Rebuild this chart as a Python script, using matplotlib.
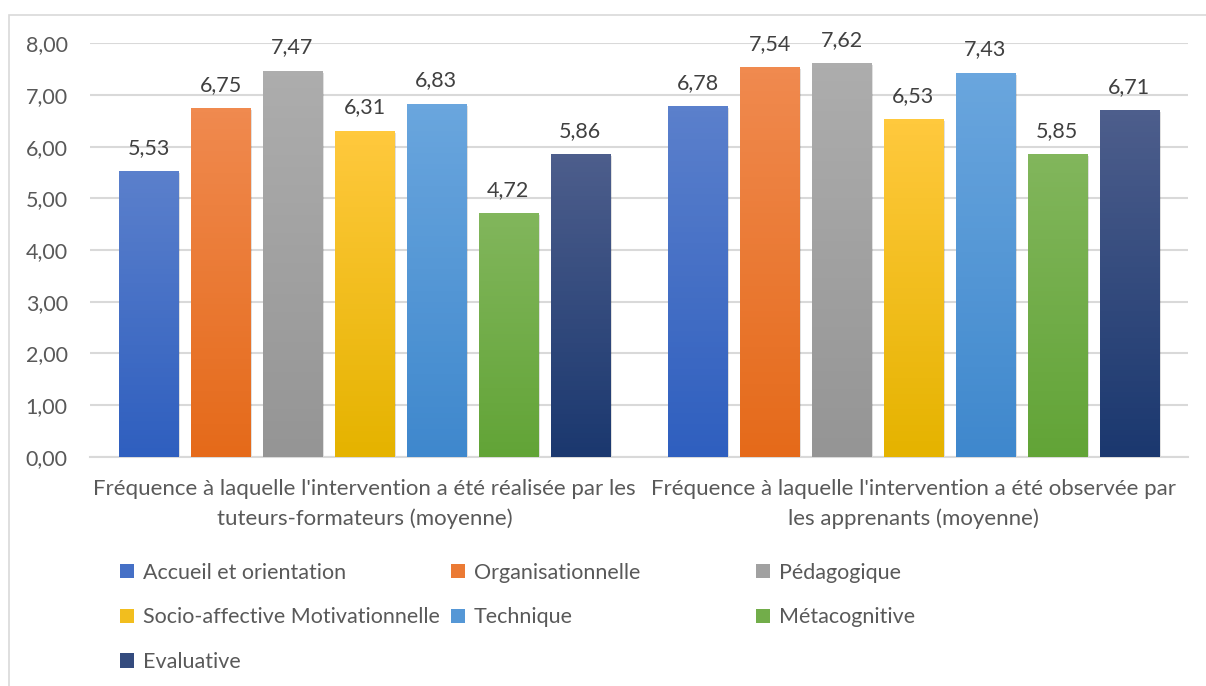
import numpy as np
import matplotlib
matplotlib.use("Agg")
import matplotlib.pyplot as plt
from matplotlib.patches import Rectangle, Patch
from matplotlib.ticker import FuncFormatter
import matplotlib.colors as mcolors
import matplotlib.patheffects as pe

######### données ##########
categories = [
    "Fréquence à laquelle l'intervention a été réalisée par les\ntuteurs-formateurs (moyenne)",
    "Fréquence à laquelle l'intervention a été observée par\nles apprenants (moyenne)",
]
series = ["Accueil et orientation", "Organisationnelle", "Pédagogique",
          "Socio-affective Motivationnelle", "Technique", "Métacognitive", "Evaluative"]
realisee = [5.53, 6.75, 7.47, 6.31, 6.83, 4.72, 5.86]
observee = [6.78, 7.54, 7.62, 6.53, 7.43, 5.85, 6.71]
# couleurs haut / bas du dégradé
top_colors = ["#5b80cc", "#f08a4f", "#adadad", "#ffc93d", "#6aa6de", "#82b65c", "#4d5e8c"]
bot_colors = ["#2f5fbf", "#e56a1a", "#959595", "#e5b300", "#3f88cd", "#62a437", "#1b386f"]
######### données ##########

plt.rcParams['font.family'] = ['Lato', 'DejaVu Sans']
txt = "#595959"
grid = "#d9d9d9"
fs = 16

fig = plt.figure(figsize=(12.06, 6.86), dpi=100)
ax = fig.add_axes([0.0746, 0.334, 0.9104, 0.603])

values = np.array([realisee, observee])
x = np.arange(len(categories))
pitch = 0.131
width = 0.1075
n = len(series)

shadow = [pe.SimplePatchShadow(offset=(1.5, -1.5), shadow_rgbFace='#000000', alpha=0.12), pe.Normal()]

for i, name in enumerate(series):
    pos = x + (i - (n - 1) / 2) * pitch
    bars = ax.bar(pos, values[:, i], width, color=bot_colors[i], zorder=2)
    c0 = np.array(mcolors.to_rgb(top_colors[i]))
    c1 = np.array(mcolors.to_rgb(bot_colors[i]))
    t = np.linspace(0, 1, 64)[:, None]
    grad = (c0 * (1 - t) + c1 * t)[:, None, :]
    for b, v in zip(bars, values[:, i]):
        b.set_path_effects(shadow)
        im = ax.imshow(grad, extent=(b.get_x(), b.get_x() + b.get_width(), 0, v),
                       origin='upper', aspect='auto', zorder=3)
        im.set_clip_path(b)
        ax.annotate(f"{v:.2f}".replace(".", ","), (b.get_x() + b.get_width() / 2, v),
                    xytext=(0, 9.5), textcoords='offset points', ha='center', va='bottom',
                    fontsize=15.5, color="#404040", zorder=4)

ax.set_xlim(-0.5, 1.5)
ax.set_ylim(0, 8)
ax.set_yticks(np.arange(0, 9, 1))
ax.yaxis.set_major_formatter(FuncFormatter(lambda v, p: f"{v:.2f}".replace(".", ",")))
ax.set_xticks(x)
ax.set_xticklabels(categories, linespacing=1.55)
ax.tick_params(axis='both', length=0, labelsize=fs, labelcolor=txt)
ax.tick_params(axis='y', labelsize=15.5, pad=16)
ax.tick_params(axis='x', pad=16)
ax.grid(axis='y', color=grid, linewidth=1.5, zorder=0)
ax.set_axisbelow(True)
for s in ["top", "right", "left"]:
    ax.spines[s].set_visible(False)
ax.spines["bottom"].set_color(grid)
ax.spines["bottom"].set_linewidth(1.5)

# légende en trois colonnes
handles = [Patch(facecolor=mcolors.to_hex((np.array(mcolors.to_rgb(top_colors[i])) +
                                           np.array(mcolors.to_rgb(bot_colors[i]))) / 2),
                 label=series[i]) for i in range(n)]
cols = [[0, 3, 6], [1, 4], [2, 5]]
xs = [0.0995, 0.374, 0.627]
for c, xpos in zip(cols, xs):
    leg = fig.legend([handles[k] for k in c], [series[k] for k in c], loc='upper left',
                     bbox_to_anchor=(xpos, 0.18), frameon=False, fontsize=15.5,
                     handlelength=0.65, handleheight=0.65, handletextpad=0.4,
                     labelspacing=1.15, borderaxespad=0, borderpad=0)
    for t_ in leg.get_texts():
        t_.set_color(txt)

# cadre du graphique
fig.patches.append(Rectangle((9 / 1206, -0.1), 1.2, 1 - 15 / 686 + 0.1,
                             transform=fig.transFigure, fill=False,
                             edgecolor=grid, linewidth=1.2))

fig.savefig("out.png", dpi=100)
